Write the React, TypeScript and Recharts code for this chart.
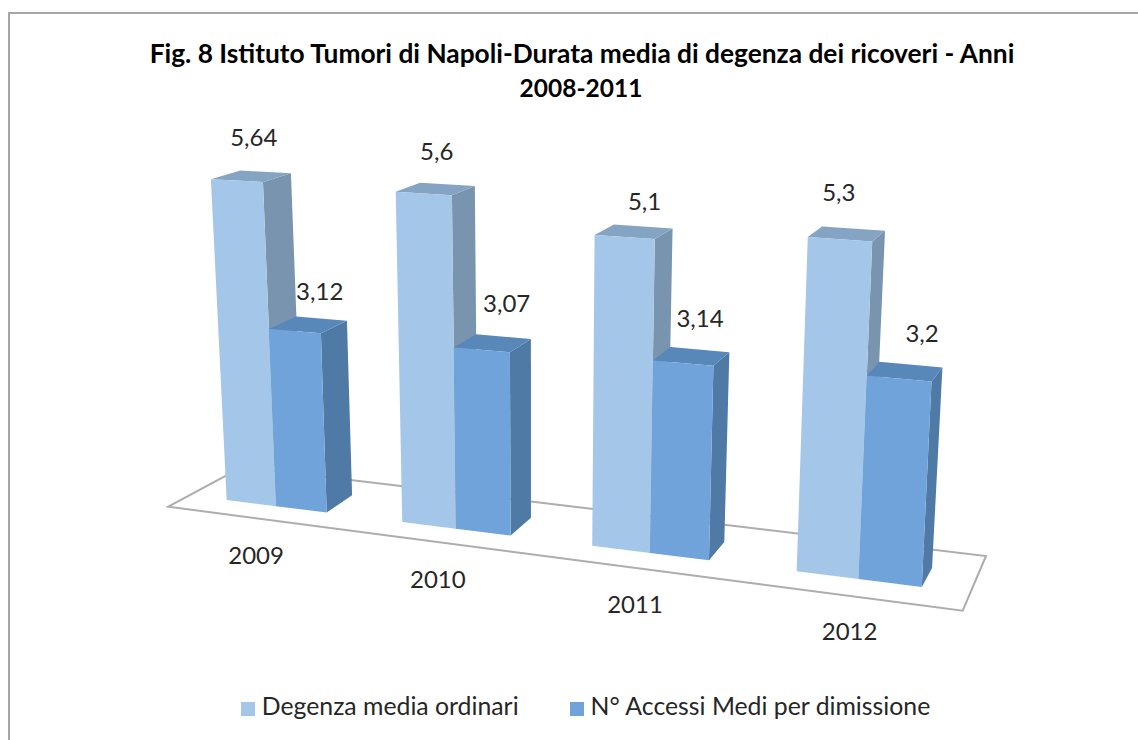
import { BarChart, Bar, XAxis, YAxis, Legend, LabelList, Customized } from 'recharts'

const years = ['2009', '2010', '2011', '2012']
const degenza = [5.64, 5.6, 5.1, 5.3]
const accessi = [3.12, 3.07, 3.14, 3.2]

const DEGENZA_NAME = 'Degenza media ordinari'
const ACCESSI_NAME = 'N° Accessi Medi per dimissione'

const data = years.map((year, i) => ({ year, degenza: degenza[i], accessi: accessi[i] }))

const FONT = 'Lato, sans-serif'
const WIDTH = 1138
const HEIGHT = 740

// plot layout: one bar is BAR_W wide, a category is 3.45 bars
const BAR_W = 60
const PLOT_LEFT = 155
const FIRST_BAR = PLOT_LEFT + 43.5
const Y_MAX = 6

// fake Excel perspective, t = position in bars from the first bar, v = value
const frontX = (t: number) => 226.7 + 48.79 * t + 0.6067 * t * t
const project = (t: number, v: number) => {
  const x0 = frontX(t)
  return {
    x: x0 + (-2.8 + 0.473 * t) * v,
    y: 500 + 0.125 * (x0 - 226.7) - (57 + 0.59 * t) * v + 0.3 * v * (Y_MAX - v) * (1 - t / 14),
  }
}
const backOf = (t: number, v: number) => {
  const p = project(t, v)
  return { x: p.x + 28.3 - 1.46 * t + 0.2 * v, y: p.y - (17 + 0.15 * t) + 1.5 * v }
}
const pts = (list: { x: number; y: number }[]) => list.map((p) => `${p.x},${p.y}`).join(' ')

function bar3d(side: string, top: string) {
  return function Shape(props: any) {
    const { x, y, width, fill, background } = props
    const unit = background.height / Y_MAX
    const base = background.y + background.height
    const v = (base - y) / unit
    const t1 = (x - FIRST_BAR) / BAR_W
    const t2 = (x + width - FIRST_BAR) / BAR_W
    const front = [project(t1, 0), project(t2, 0), project(t2, v), project(t1, v)]
    const sideFace = [project(t2, 0), project(t2, v), backOf(t2, v), backOf(t2, 0)]
    const topFace = [project(t1, v), project(t2, v), backOf(t2, v), backOf(t1, v)]
    return (
      <g>
        <polygon points={pts(sideFace)} fill={side} />
        <polygon points={pts(topFace)} fill={top} />
        <polygon points={pts(front)} fill={fill} />
      </g>
    )
  }
}

function valueLabel(nudges: number[][]) {
  return function ValueLabel(props: any) {
    const { x, width, value, index } = props
    const t = (x + width / 2 - FIRST_BAR) / BAR_W
    const p = project(t, Number(value))
    return (
      <text
        x={p.x + nudges[index][0]}
        y={p.y + nudges[index][1]}
        textAnchor="middle"
        dominantBaseline="central"
        fontFamily={FONT}
        fontSize={24}
        fill="#262626"
      >
        {String(value).replace('.', ',')}
      </text>
    )
  }
}

const degenzaNudge = [[17, -44], [13, -43], [20, -36], [-1, -48]]
const accessiNudge = [[25, -41], [25, -47], [17, -46], [23, -46]]
const tickNudge = [[-20, 48], [-18, 50], [-15, 51], [-9, 52]]

function YearTick(props: any) {
  const { x, payload, index } = props
  const t = (x - FIRST_BAR) / BAR_W
  const p = project(t, 0)
  return (
    <text
      x={p.x + tickNudge[index][0]}
      y={p.y + tickNudge[index][1]}
      textAnchor="middle"
      dominantBaseline="central"
      fontFamily={FONT}
      fontSize={24}
      fill="#262626"
    >
      {payload.value}
    </text>
  )
}

function Backdrop() {
  return (
    <g>
      <polygon
        points="168.3,506.7 242,467 986,556 962.7,610.7"
        fill="#ffffff"
        stroke="#ADADAD"
        strokeWidth={2}
      />
      <text x={582} y={53} textAnchor="middle" dominantBaseline="central" fontFamily={FONT} fontWeight={700} fontSize={26.3} fill="#000">
        Fig. 8 Istituto Tumori di Napoli-Durata media di degenza dei ricoveri - Anni
      </text>
      <text x={581} y={87} textAnchor="middle" dominantBaseline="central" fontFamily={FONT} fontWeight={700} fontSize={24.5} fill="#000">
        2008-2011
      </text>
    </g>
  )
}

export default function App() {
  return (
    <div style={{ position: 'absolute', left: 0, top: 0, width: WIDTH, height: HEIGHT, background: '#fff', overflow: 'hidden' }}>
      <div
        style={{
          position: 'absolute',
          left: 8,
          top: 12,
          right: 0,
          bottom: 0,
          borderTop: '2.5px solid #A6A6A6',
          borderLeft: '2.5px solid #A6A6A6',
        }}
      />
      <BarChart
        width={WIDTH}
        height={HEIGHT}
        data={data}
        margin={{ top: 100, right: PLOT_LEFT, bottom: 0, left: PLOT_LEFT }}
        barCategoryGap={43.5}
        barGap={0}
      >
        <Customized component={Backdrop} />
        <XAxis dataKey="year" axisLine={false} tickLine={false} tick={YearTick} height={40} interval={0} />
        <YAxis hide domain={[0, Y_MAX]} />
        <Legend
          verticalAlign="bottom"
          iconType="square"
          iconSize={14}
          wrapperStyle={{ left: 211, top: 691, width: 800, fontFamily: FONT, fontSize: 24.8 }}
          formatter={(value: string) => (
            <span style={{ color: '#262626', marginLeft: 3, marginRight: 41 }}>{value}</span>
          )}
        />
        <Bar dataKey="degenza" name={DEGENZA_NAME} fill="#A4C6E8" shape={bar3d('#7994AE', '#85A3C3')} isAnimationActive={false}>
          <LabelList dataKey="degenza" content={valueLabel(degenzaNudge)} />
        </Bar>
        <Bar dataKey="accessi" name={ACCESSI_NAME} fill="#6FA3D9" shape={bar3d('#4E7AA5', '#5887B9')} isAnimationActive={false}>
          <LabelList dataKey="accessi" content={valueLabel(accessiNudge)} />
        </Bar>
      </BarChart>
    </div>
  )
}
